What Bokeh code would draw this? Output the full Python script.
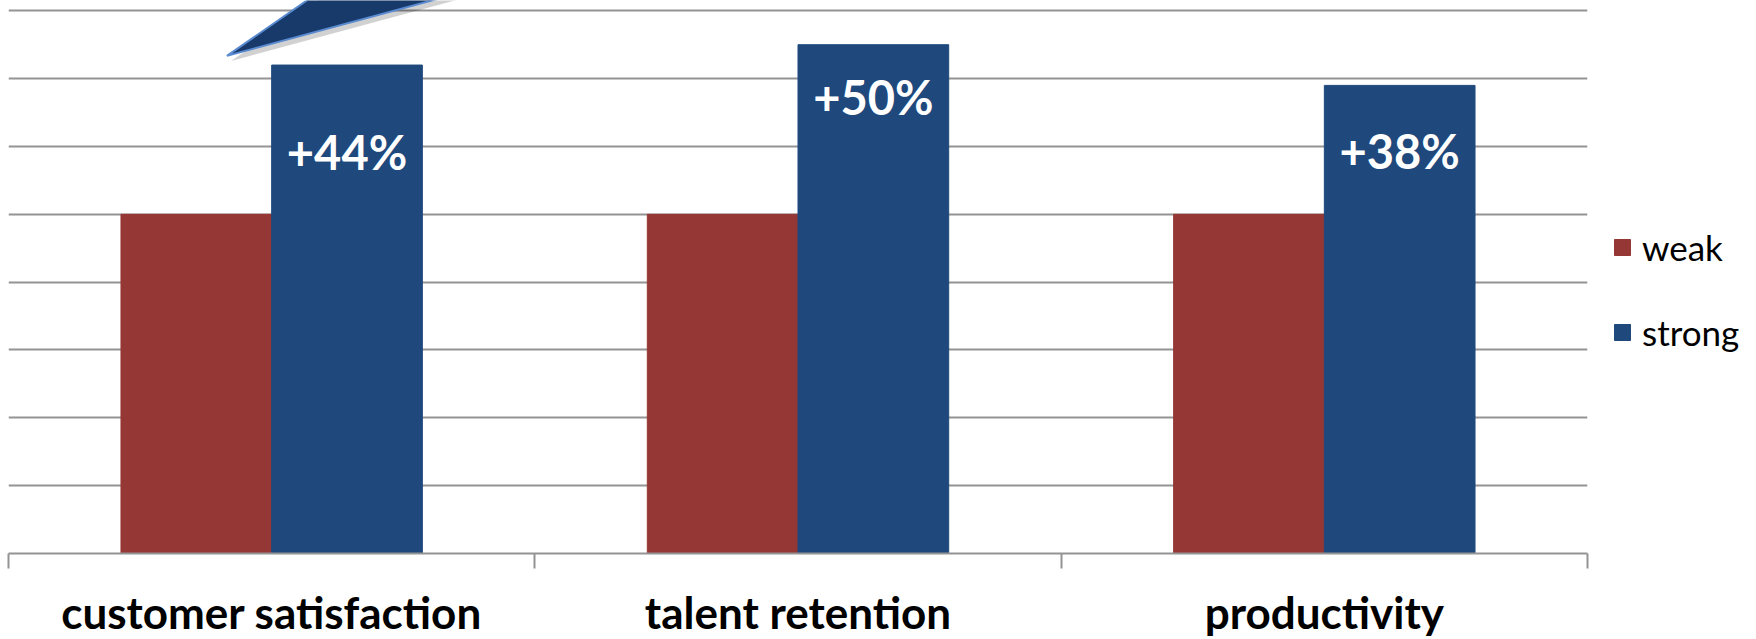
from bokeh.plotting import figure
from bokeh.models import (Range1d, FixedTicker, Legend, LegendItem, ColumnDataSource)
from bokeh.core.properties import value
from bokeh.embed import file_html
from bokeh.resources import INLINE

# ---- data ----
categories = ["customer satisfaction", "talent retention", "productivity"]
weak = [100, 100, 100]
strong = [144, 150, 138]
label_y = [118.4, 134.6, 118.8]          # vertical position of the "+x%" labels
grid_values = [20, 40, 60, 80, 100, 120, 140, 160]

# callout arrow (decoration) in data units
arrow_x = [0.415, 0.730, 1.223]
arrow_y = [146.7, 180.6, 180.6]

WEAK_C = "#953735"
STRONG_C = "#1F497D"
GRID_C = "#939393"

n = len(categories)
centers = [i + 0.5 for i in range(n)]
bw = 0.2863
weak_x = [c - bw / 2 for c in centers]
strong_x = [c + bw / 2 for c in centers]
labels = ["+%d%%" % round((s / w - 1) * 100) for s, w in zip(strong, weak)]

p = figure(frame_width=1579, frame_height=553, output_backend="svg",
           toolbar_location=None, x_range=Range1d(0, n),
           y_range=Range1d(0, 553 * 20 / 67.84),
           min_border_left=8, min_border_top=0, min_border_right=169,
           min_border_bottom=86)
p.outline_line_color = None
p.background_fill_color = "white"
p.border_fill_color = "white"

# grid
p.xgrid.visible = False
p.ygrid.ticker = FixedTicker(ticks=grid_values)
p.ygrid.grid_line_color = GRID_C
p.ygrid.grid_line_width = 2
p.yaxis.visible = False

# x axis: labels at centers, tick marks at boundaries
ax = p.xaxis[0]
ax.ticker = FixedTicker(ticks=centers, minor_ticks=list(range(n + 1)))
ax.major_label_overrides = {c: name for c, name in zip(centers, categories)}
ax.major_tick_line_color = None
ax.minor_tick_out = 15
ax.minor_tick_in = 0
ax.minor_tick_line_color = GRID_C
ax.minor_tick_line_width = 2
ax.axis_line_color = GRID_C
ax.axis_line_width = 2
ax.major_label_text_font = "Lato"
ax.major_label_text_font_style = "bold"
ax.major_label_text_font_size = "44px"
ax.major_label_text_color = "black"
ax.major_label_standoff = 17

src = ColumnDataSource(dict(cat=categories, weak=weak, strong=strong,
                            weak_x=weak_x, strong_x=strong_x,
                            cx=strong_x, ly=label_y, lab=labels))

r_weak = p.vbar(x="weak_x", top="weak", width=bw, bottom=0, source=src,
                fill_color=WEAK_C, line_color=WEAK_C)
r_strong = p.vbar(x="strong_x", top="strong", width=bw, bottom=0, source=src,
                  fill_color=STRONG_C, line_color=STRONG_C)

p.text(x="cx", y="ly", text="lab", source=src, text_color="white",
       text_font=value("Lato"), text_font_style="bold", text_font_size="47px",
       text_align="center", text_baseline="middle")

# callout arrow with shadow
p.patch([x + 0.008 for x in arrow_x], [y - 1.5 for y in arrow_y],
        fill_color="black", fill_alpha=0.18, line_color=None)
p.patch(arrow_x, arrow_y, fill_color="#173a6b", line_color="#5a8ad0",
        line_width=2)

legend = Legend(items=[LegendItem(label="weak", renderers=[r_weak]),
                       LegendItem(label="strong", renderers=[r_strong])],
                location=(25, 200))
legend.padding = 0
legend.margin = 0
legend.border_line_color = None
legend.background_fill_alpha = 0
legend.glyph_width = 20
legend.glyph_height = 20
legend.label_standoff = 10
legend.label_text_font = "Lato"
legend.label_text_font_size = "35px"
legend.label_text_color = "black"
legend.spacing = 43
p.add_layout(legend, "right")

open("out.html", "w").write(file_html(p, INLINE))
